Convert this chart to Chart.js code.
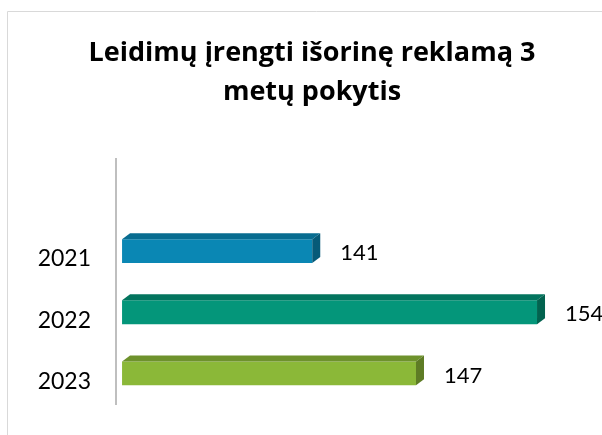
<!DOCTYPE html>
<html>
<head>
<meta charset="utf-8">
<script src="https://cdn.jsdelivr.net/npm/chart.js@4"></script>
<style>
  html, body { margin: 0; padding: 0; background: #fff; overflow: hidden; }
  #wrap { position: absolute; left: 0; top: 0; width: 624px; height: 435px; }
</style>
</head>
<body>
<div id="wrap"><canvas id="myChart"></canvas></div>
<script>
const titleLines = ['Leidimų įrengti išorinę reklamą 3', 'metų pokytis'];
const years = ['2021', '2022', '2023'];
const values = [141, 154, 147];
const frontColors = ['#0A87B4', '#04967A', '#8BB838'];
const topColors = ['#086C90', '#03745E', '#6E922C'];
const sideColors = ['#065A78', '#02634F', '#5E7C25'];

// an empty slot above the bars, like the original plot area
const labels = [''].concat(years);
const barData = [null].concat(values);

const depth = { dx: 8, dy: 6 };

const bar3d = {
    id: 'bar3d',
    beforeDraw(chart) {
        const c = chart.ctx;
        c.save();
        c.strokeStyle = '#d9d9d9';
        c.lineWidth = 1;
        c.beginPath();
        c.moveTo(7.5, chart.height + 5);
        c.lineTo(7.5, 11.5);
        c.lineTo(chart.width + 5, 11.5);
        c.stroke();
        c.restore();
    },
    afterDatasetsDraw(chart) {
        const c = chart.ctx;
        const meta = chart.getDatasetMeta(0);
        meta.data.forEach((bar, i) => {
            if (barData[i] == null) return;
            const k = i - 1;
            const p = bar.getProps(['x', 'y', 'base', 'height'], true);
            const top = p.y - p.height / 2;
            const bottom = p.y + p.height / 2;
            c.save();
            c.fillStyle = topColors[k];
            c.beginPath();
            c.moveTo(p.base, top);
            c.lineTo(p.base + depth.dx, top - depth.dy);
            c.lineTo(p.x + depth.dx, top - depth.dy);
            c.lineTo(p.x, top);
            c.closePath();
            c.fill();
            c.fillStyle = sideColors[k];
            c.beginPath();
            c.moveTo(p.x, top);
            c.lineTo(p.x + depth.dx, top - depth.dy);
            c.lineTo(p.x + depth.dx, bottom - depth.dy);
            c.lineTo(p.x, bottom);
            c.closePath();
            c.fill();
            // value label
            c.fillStyle = '#000';
            c.font = '22px Lato';
            c.textAlign = 'left';
            c.textBaseline = 'middle';
            c.fillText(String(values[k]), p.x + 28, p.y + 2);
            c.restore();
        });
    }
};

new Chart(document.getElementById('myChart'), {
    type: 'bar',
    data: {
        labels: labels,
        datasets: [{
            data: barData,
            backgroundColor: [null].concat(frontColors),
            borderWidth: 0,
            base: 130,
            categoryPercentage: 1,
            barPercentage: 0.39
        }]
    },
    options: {
        indexAxis: 'y',
        responsive: true,
        maintainAspectRatio: false,
        animation: false,
        layout: { padding: { top: 0, bottom: 31, left: 0, right: 0 } },
        plugins: {
            legend: { display: false },
            tooltip: { enabled: false },
            title: {
                display: true,
                text: titleLines,
                color: '#000',
                font: { family: 'Open Sans', size: 27, weight: 'bold', lineHeight: 1.45 },
                padding: { top: 34, bottom: 47 }
            }
        },
        scales: {
            x: {
                display: false,
                min: 129.65,
                max: 159.03
            },
            y: {
                grid: { display: false, drawTicks: false },
                border: { display: true, color: '#bfbfbf', width: 2 },
                ticks: {
                    color: '#000',
                    font: { family: 'Lato', size: 23 },
                    padding: 25,
                    labelOffset: 8
                },
                afterFit(scale) {
                    scale.width = 116;
                    scale.paddingTop = 0;
                    scale.paddingBottom = 0;
                }
            }
        }
    },
    plugins: [bar3d]
});
</script>
</body>
</html>
